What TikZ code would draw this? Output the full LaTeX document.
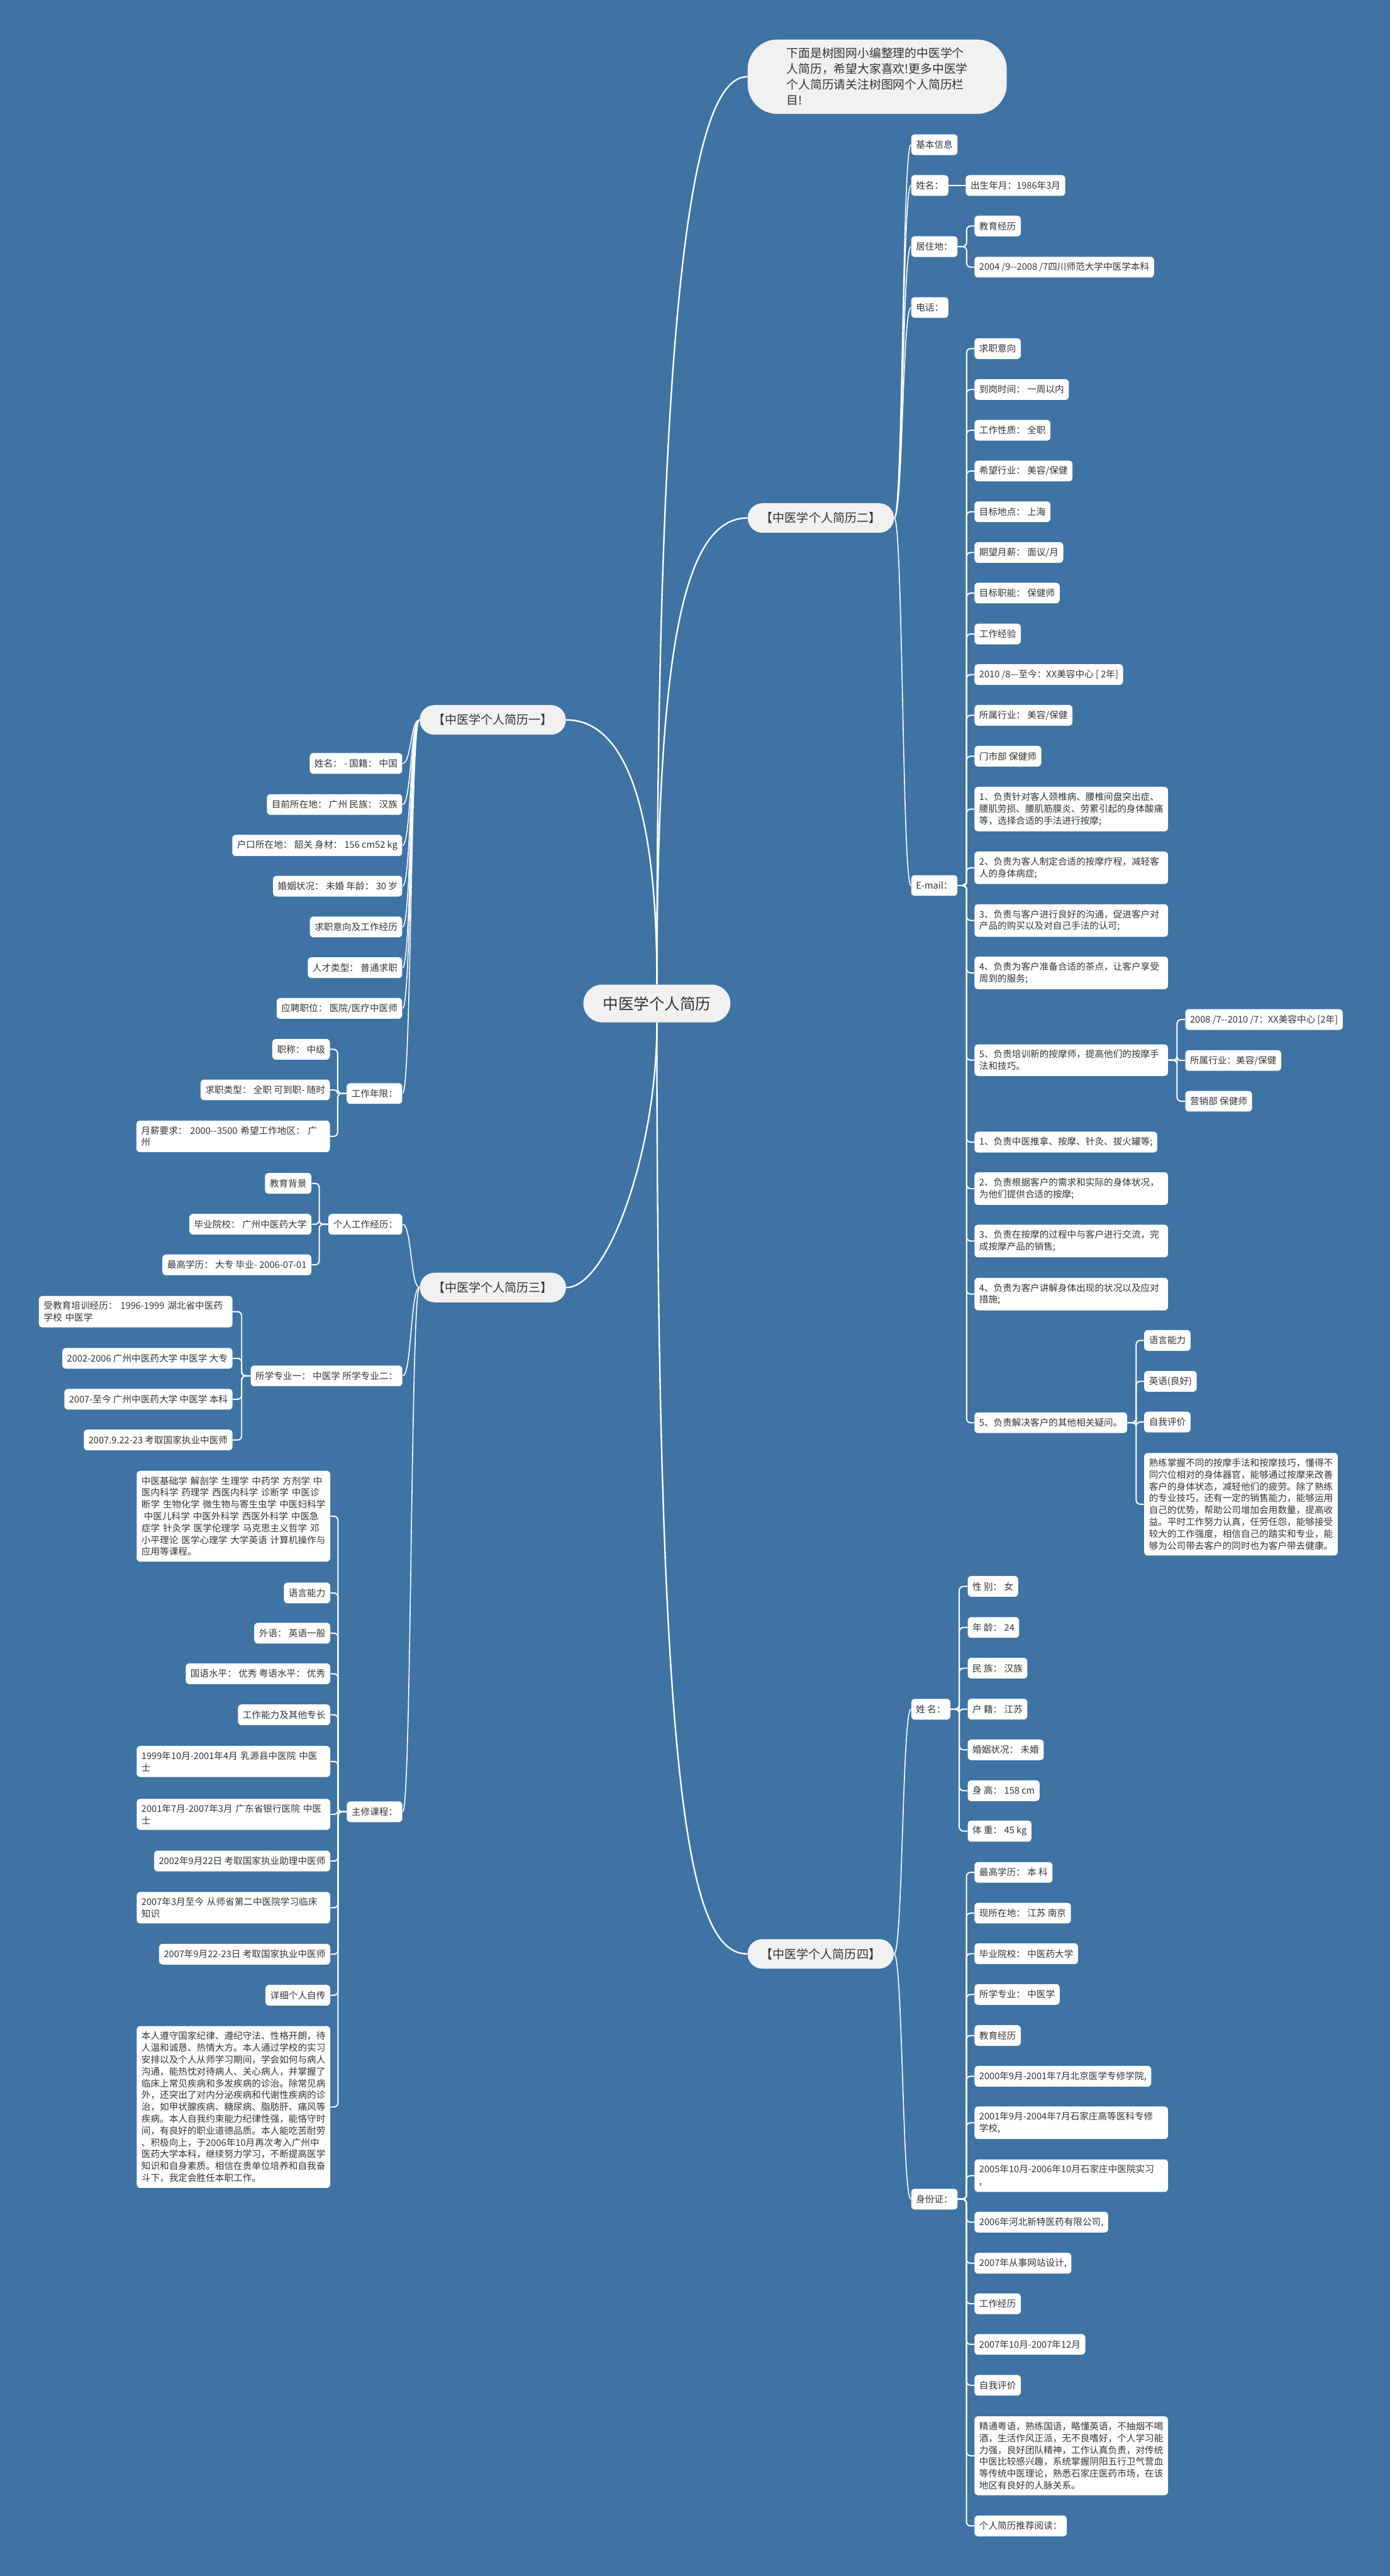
\documentclass[tikz,border=0pt]{standalone}
\usepackage{fontspec}
\usepackage{xcolor}
\newfontfamily\cjkfont{Noto Sans CJK SC}
\usetikzlibrary{positioning}
\definecolor{mapblue}{RGB}{62,115,164}
\definecolor{inkgrey}{HTML}{333333}
\definecolor{pillgrey}{HTML}{F1F1F1}

\begin{document}
\begin{tikzpicture}[
    x=1pt, y=-1pt,
    leaf/.style={rectangle, rounded corners=2.2pt, fill=white, text=inkgrey, font=\cjkfont\fontsize{5.6}{7.2}\selectfont, inner xsep=2.9pt, inner ysep=3.4pt, minimum height=12.6pt},
    wideleaf/.style={leaf, text width=112pt, align=left},
    branchbox/.style={rectangle, rounded corners=9pt, fill=pillgrey, text=inkgrey, font=\cjkfont\fontsize{7.3}{9}\selectfont, minimum width=89pt, minimum height=18pt, inner sep=0pt},
    rootbox/.style={branchbox, rounded corners=11.5pt, font=\cjkfont\fontsize{9.4}{11}\selectfont, minimum width=89.5pt, minimum height=23pt},
    introbox/.style={branchbox, rounded corners=18pt, font=\cjkfont\fontsize{7.2}{9.6}\selectfont, align=left, minimum width=157.7pt, minimum height=45.2pt},
    trunk/.style={draw=white, line width=0.9pt},
    twig/.style={draw=white, line width=0.6pt},
    elbow/.style={draw=white, line width=0.75pt, rounded corners=2.5pt}
  ]
    \fill[mapblue] (0,0) rectangle (846,1568);
    \useasboundingbox (0,0) rectangle (846,1568);

    % centre and main branches
    \node[rootbox] (root) at (399.8,610.8) {中医学个人简历};
    \node[introbox] (intro) at (533.9,46.7) {下面是树图网小编整理的中医学个\\人简历，希望大家喜欢!更多中医学\\个人简历请关注树图网个人简历栏\\目!};
    \node[branchbox] (b1) at (299.9,438.2) {【中医学个人简历一】};
    \node[branchbox] (b2) at (499.6,315.3) {【中医学个人简历二】};
    \node[branchbox] (b3) at (300,783.7) {【中医学个人简历三】};
    \node[branchbox] (b4) at (499.5,1189.3) {【中医学个人简历四】};

    \draw[trunk] (root.north) .. controls (400,150) and (425,46.7) .. (intro.west);
    \draw[trunk] (root.north) .. controls (400,400) and (415,315.3) .. (b2.west);
    \draw[trunk] (root.north) .. controls (400,490) and (380,438.2) .. (b1.east);
    \draw[trunk] (root.south) .. controls (400,700) and (370,783.7) .. (b3.east);
    \draw[trunk] (root.south) .. controls (400,1100) and (420,1189.3) .. (b4.west);

    % branch two
    \node[leaf, anchor=west] (jiben) at (554.4,88.1) {基本信息};
    \node[leaf, anchor=west] (xm2) at (554.4,112.9) {姓名：};
    \node[leaf, anchor=west] (jz) at (554.4,150.1) {居住地：};
    \node[leaf, anchor=west] (dh) at (554.4,187.2) {电话：};
    \node[leaf, anchor=west] (em) at (554.4,539) {E-mail：};
    \node[leaf, anchor=west] (csny) at (587.6,112.9) {出生年月：1986年3月};
    \node[leaf, anchor=west] (jyjl2) at (592.9,137.6) {教育经历};
    \node[leaf, anchor=west] (scsf) at (592.9,162.6) {2004 /9--2008 /7四川师范大学中医学本科};
    \node[leaf, anchor=west] (e01) at (592.9,212.2) {求职意向};
    \node[leaf, anchor=west] (e02) at (592.9,237.1) {到岗时间： 一周以内};
    \node[leaf, anchor=west] (e03) at (592.9,261.9) {工作性质： 全职};
    \node[leaf, anchor=west] (e04) at (592.9,286.7) {希望行业： 美容/保健};
    \node[leaf, anchor=west] (e05) at (592.9,311.5) {目标地点： 上海};
    \node[leaf, anchor=west] (e06) at (592.9,336.3) {期望月薪： 面议/月};
    \node[leaf, anchor=west] (e07) at (592.9,361) {目标职能： 保健师};
    \node[leaf, anchor=west] (e08) at (592.9,385.9) {工作经验};
    \node[leaf, anchor=west] (e09) at (592.9,410.6) {2010 /8—至今：XX美容中心 [ 2年]};
    \node[leaf, anchor=west] (e10) at (592.9,435.4) {所属行业： 美容/保健};
    \node[leaf, anchor=west] (e11) at (592.9,460.3) {门市部 保健师};
    \node[wideleaf, anchor=west] (e12) at (592.9,492.5) {1、负责针对客人颈椎病、腰椎间盘突出症、\\腰肌劳损、腰肌筋膜炎、劳累引起的身体酸痛\\等，选择合适的手法进行按摩;};
    \node[wideleaf, anchor=west] (e13) at (592.9,528.2) {2、负责为客人制定合适的按摩疗程，减轻客\\人的身体病症;};
    \node[wideleaf, anchor=west] (e14) at (592.9,560.3) {3、负责与客户进行良好的沟通，促进客户对\\产品的购买以及对自己手法的认可;};
    \node[wideleaf, anchor=west] (e15) at (592.9,592.2) {4、负责为客户准备合适的茶点，让客户享受\\周到的服务;};
    \node[wideleaf, anchor=west] (e16) at (592.9,645.3) {5、负责培训新的按摩师，提高他们的按摩手\\法和技巧。};
    \node[leaf, anchor=west] (e17) at (592.9,695.2) {1、负责中医推拿、按摩、针灸、拔火罐等;};
    \node[wideleaf, anchor=west] (e18) at (592.9,723.5) {2、负责根据客户的需求和实际的身体状况，\\为他们提供合适的按摩;};
    \node[wideleaf, anchor=west] (e19) at (592.9,755.4) {3、负责在按摩的过程中与客户进行交流，完\\成按摩产品的销售;};
    \node[wideleaf, anchor=west] (e20) at (592.9,787.7) {4、负责为客户讲解身体出现的状况以及应对\\措施;};
    \node[leaf, anchor=west] (e21) at (592.9,866) {5、负责解决客户的其他相关疑问。};
    \node[leaf, anchor=west] (f1) at (721.2,620.6) {2008 /7--2010 /7：XX美容中心 [2年]};
    \node[leaf, anchor=west] (f2) at (721.2,645.5) {所属行业：美容/保健};
    \node[leaf, anchor=west] (f3) at (721.2,670.3) {营销部 保健师};
    \node[leaf, anchor=west] (g1) at (696.2,815.9) {语言能力};
    \node[leaf, anchor=west] (g2) at (696.2,840.8) {英语(良好)};
    \node[leaf, anchor=west] (g3) at (696.2,865.6) {自我评价};
    \node[wideleaf, anchor=west] (g4) at (696.2,915.6) {熟练掌握不同的按摩手法和按摩技巧，懂得不\\同穴位相对的身体器官，能够通过按摩来改善\\客户的身体状态，减轻他们的疲劳。除了熟练\\的专业技巧，还有一定的销售能力，能够运用\\自己的优势，帮助公司增加会用数量，提高收\\益。平时工作努力认真，任劳任怨，能够接受\\较大的工作强度，相信自己的踏实和专业，能\\够为公司带去客户的同时也为客户带去健康。};

    \draw[twig] (b2.east) .. controls +(5.2,0) and +(-5.2,0) .. (jiben.west);
    \draw[twig] (b2.east) .. controls +(5.2,0) and +(-5.2,0) .. (xm2.west);
    \draw[twig] (b2.east) .. controls +(5.2,0) and +(-5.2,0) .. (jz.west);
    \draw[twig] (b2.east) .. controls +(5.2,0) and +(-5.2,0) .. (dh.west);
    \draw[twig] (b2.east) .. controls +(5.2,0) and +(-5.2,0) .. (em.west);
    \draw[elbow] (xm2.east) -- (csny.west);
    \draw[elbow] (jz.east) -- ++(5.3,0) |- (jyjl2.west);
    \draw[elbow] (jz.east) -- ++(5.3,0) |- (scsf.west);
    \draw[elbow] (em.east) -- ++(5.4,0) |- (e01.west);
    \draw[elbow] (em.east) -- ++(5.4,0) |- (e02.west);
    \draw[elbow] (em.east) -- ++(5.4,0) |- (e03.west);
    \draw[elbow] (em.east) -- ++(5.4,0) |- (e04.west);
    \draw[elbow] (em.east) -- ++(5.4,0) |- (e05.west);
    \draw[elbow] (em.east) -- ++(5.4,0) |- (e06.west);
    \draw[elbow] (em.east) -- ++(5.4,0) |- (e07.west);
    \draw[elbow] (em.east) -- ++(5.4,0) |- (e08.west);
    \draw[elbow] (em.east) -- ++(5.4,0) |- (e09.west);
    \draw[elbow] (em.east) -- ++(5.4,0) |- (e10.west);
    \draw[elbow] (em.east) -- ++(5.4,0) |- (e11.west);
    \draw[elbow] (em.east) -- ++(5.4,0) |- (e12.west);
    \draw[elbow] (em.east) -- ++(5.4,0) |- (e13.west);
    \draw[elbow] (em.east) -- ++(5.4,0) |- (e14.west);
    \draw[elbow] (em.east) -- ++(5.4,0) |- (e15.west);
    \draw[elbow] (em.east) -- ++(5.4,0) |- (e16.west);
    \draw[elbow] (em.east) -- ++(5.4,0) |- (e17.west);
    \draw[elbow] (em.east) -- ++(5.4,0) |- (e18.west);
    \draw[elbow] (em.east) -- ++(5.4,0) |- (e19.west);
    \draw[elbow] (em.east) -- ++(5.4,0) |- (e20.west);
    \draw[elbow] (em.east) -- ++(5.4,0) |- (e21.west);
    \draw[elbow] (e16.east) -- ++(5.3,0) |- (f1.west);
    \draw[elbow] (e16.east) -- ++(5.3,0) |- (f2.west);
    \draw[elbow] (e16.east) -- ++(5.3,0) |- (f3.west);
    \draw[elbow] (e21.east) -- ++(5.3,0) |- (g1.west);
    \draw[elbow] (e21.east) -- ++(5.3,0) |- (g2.west);
    \draw[elbow] (e21.east) -- ++(5.3,0) |- (g3.west);
    \draw[elbow] (e21.east) -- ++(5.3,0) |- (g4.west);

    % branch one
    \node[leaf, anchor=east] (a1) at (245,464.7) {姓名： - 国籍： 中国};
    \node[leaf, anchor=east] (a2) at (245,489.7) {目前所在地： 广州 民族： 汉族};
    \node[leaf, anchor=east] (a3) at (245,514.6) {户口所在地： 韶关 身材： 156 cm52 kg};
    \node[leaf, anchor=east] (a4) at (245,539.4) {婚姻状况： 未婚 年龄： 30 岁};
    \node[leaf, anchor=east] (a5) at (245,564.2) {求职意向及工作经历};
    \node[leaf, anchor=east] (a6) at (245,589) {人才类型： 普通求职};
    \node[leaf, anchor=east] (a7) at (245,613.8) {应聘职位： 医院/医疗中医师};
    \node[leaf, anchor=east] (a8) at (245,665.6) {工作年限：};
    \node[leaf, anchor=east] (a81) at (201,638.7) {职称： 中级};
    \node[leaf, anchor=east] (a82) at (201,663.4) {求职类型： 全职 可到职- 随时};
    \node[wideleaf, anchor=east] (a83) at (201,691.7) {月薪要求： 2000--3500 希望工作地区： 广\\州};

    \draw[twig] (b1.west) .. controls +(-5.4,0) and +(5.4,0) .. (a1.east);
    \draw[twig] (b1.west) .. controls +(-5.4,0) and +(5.4,0) .. (a2.east);
    \draw[twig] (b1.west) .. controls +(-5.4,0) and +(5.4,0) .. (a3.east);
    \draw[twig] (b1.west) .. controls +(-5.4,0) and +(5.4,0) .. (a4.east);
    \draw[twig] (b1.west) .. controls +(-5.4,0) and +(5.4,0) .. (a5.east);
    \draw[twig] (b1.west) .. controls +(-5.4,0) and +(5.4,0) .. (a6.east);
    \draw[twig] (b1.west) .. controls +(-5.4,0) and +(5.4,0) .. (a7.east);
    \draw[twig] (b1.west) .. controls +(-5.4,0) and +(5.4,0) .. (a8.east);
    \draw[elbow] (a8.west) -- ++(-5.3,0) |- (a81.east);
    \draw[elbow] (a8.west) -- ++(-5.3,0) |- (a82.east);
    \draw[elbow] (a8.west) -- ++(-5.3,0) |- (a83.east);

    % branch three
    \node[leaf, anchor=east] (c1) at (245.1,745.2) {个人工作经历：};
    \node[leaf, anchor=east] (c2) at (245.1,837.5) {所学专业一： 中医学 所学专业二：};
    \node[leaf, anchor=east] (c3) at (245.1,1102.8) {主修课程：};
    \node[leaf, anchor=east] (c11) at (189.7,720.3) {教育背景};
    \node[leaf, anchor=east] (c12) at (189.7,745.2) {毕业院校： 广州中医药大学};
    \node[leaf, anchor=east] (c13) at (189.7,769.9) {最高学历： 大专 毕业- 2006-07-01};
    \node[wideleaf, anchor=east] (c21) at (141.7,798.4) {受教育培训经历： 1996-1999 湖北省中医药\\学校 中医学};
    \node[leaf, anchor=east] (c22) at (141.7,826.8) {2002-2006 广州中医药大学 中医学 大专};
    \node[leaf, anchor=east] (c23) at (141.7,851.7) {2007-至今 广州中医药大学 中医学 本科};
    \node[leaf, anchor=east] (c24) at (141.7,876.5) {2007.9.22-23 考取国家执业中医师};
    \node[wideleaf, anchor=east] (c301) at (201.2,922.9) {中医基础学 解剖学 生理学 中药学 方剂学 中\\医内科学 药理学 西医内科学 诊断学 中医诊\\断学 生物化学 微生物与寄生虫学 中医妇科学\\\hspace*{1.5pt}中医儿科学 中医外科学 西医外科学 中医急\\症学 针灸学 医学伦理学 马克思主义哲学 邓\\小平理论 医学心理学 大学英语 计算机操作与\\应用等课程。};
    \node[leaf, anchor=east] (c302) at (201.2,969.6) {语言能力};
    \node[leaf, anchor=east] (c303) at (201.2,994.1) {外语： 英语一般};
    \node[leaf, anchor=east] (c304) at (201.2,1018.8) {国语水平： 优秀 粤语水平： 优秀};
    \node[leaf, anchor=east] (c305) at (201.2,1043.8) {工作能力及其他专长};
    \node[wideleaf, anchor=east] (c306) at (201.2,1072.2) {1999年10月-2001年4月 乳源县中医院 中医\\士};
    \node[wideleaf, anchor=east] (c307) at (201.2,1104.4) {2001年7月-2007年3月 广东省银行医院 中医\\士};
    \node[leaf, anchor=east] (c308) at (201.2,1132.8) {2002年9月22日 考取国家执业助理中医师};
    \node[wideleaf, anchor=east] (c309) at (201.2,1161.2) {2007年3月至今 从师省第二中医院学习临床\\知识};
    \node[leaf, anchor=east] (c310) at (201.2,1189.5) {2007年9月22-23日 考取国家执业中医师};
    \node[leaf, anchor=east] (c311) at (201.2,1214.5) {详细个人自传};
    \node[wideleaf, anchor=east] (c312) at (201.2,1282.5) {本人遵守国家纪律、遵纪守法、性格开朗，待\\人温和诚恳、热情大方。本人通过学校的实习\\安排以及个人从师学习期间，学会如何与病人\\沟通，能热忱对待病人、关心病人，并掌握了\\临床上常见疾病和多发疾病的诊治。除常见病\\外，还突出了对内分泌疾病和代谢性疾病的诊\\治，如甲状腺疾病、糖尿病、脂肪肝、痛风等\\疾病。本人自我约束能力纪律性强，能恪守时\\间，有良好的职业道德品质。本人能吃苦耐劳\\、积极向上，于2006年10月再次考入广州中\\医药大学本科，继续努力学习，不断提高医学\\知识和自身素质。相信在贵单位培养和自我奋\\斗下，我定会胜任本职工作。};

    \draw[twig] (b3.west) .. controls +(-5.4,0) and +(5.4,0) .. (c1.east);
    \draw[twig] (b3.west) .. controls +(-5.4,0) and +(5.4,0) .. (c2.east);
    \draw[twig] (b3.west) .. controls +(-5.4,0) and +(5.4,0) .. (c3.east);
    \draw[elbow] (c1.west) -- ++(-5.4,0) |- (c11.east);
    \draw[elbow] (c1.west) -- ++(-5.4,0) |- (c12.east);
    \draw[elbow] (c1.west) -- ++(-5.4,0) |- (c13.east);
    \draw[elbow] (c2.west) -- ++(-5.3,0) |- (c21.east);
    \draw[elbow] (c2.west) -- ++(-5.3,0) |- (c22.east);
    \draw[elbow] (c2.west) -- ++(-5.3,0) |- (c23.east);
    \draw[elbow] (c2.west) -- ++(-5.3,0) |- (c24.east);
    \draw[elbow] (c3.west) -- ++(-5.2,0) |- (c301.east);
    \draw[elbow] (c3.west) -- ++(-5.2,0) |- (c302.east);
    \draw[elbow] (c3.west) -- ++(-5.2,0) |- (c303.east);
    \draw[elbow] (c3.west) -- ++(-5.2,0) |- (c304.east);
    \draw[elbow] (c3.west) -- ++(-5.2,0) |- (c305.east);
    \draw[elbow] (c3.west) -- ++(-5.2,0) |- (c306.east);
    \draw[elbow] (c3.west) -- ++(-5.2,0) |- (c307.east);
    \draw[elbow] (c3.west) -- ++(-5.2,0) |- (c308.east);
    \draw[elbow] (c3.west) -- ++(-5.2,0) |- (c309.east);
    \draw[elbow] (c3.west) -- ++(-5.2,0) |- (c310.east);
    \draw[elbow] (c3.west) -- ++(-5.2,0) |- (c311.east);
    \draw[elbow] (c3.west) -- ++(-5.2,0) |- (c312.east);

    % branch four
    \node[leaf, anchor=west] (xm4) at (554.4,1040.4) {姓 名：};
    \node[leaf, anchor=west] (sfz) at (554.4,1338.6) {身份证：};
    \node[leaf, anchor=west] (h1) at (588.8,965.6) {性 别： 女};
    \node[leaf, anchor=west] (h2) at (588.8,990.6) {年 龄： 24};
    \node[leaf, anchor=west] (h3) at (588.8,1015.4) {民 族： 汉族};
    \node[leaf, anchor=west] (h4) at (588.8,1040.3) {户 籍： 江苏};
    \node[leaf, anchor=west] (h5) at (588.8,1065.1) {婚姻状况： 未婚};
    \node[leaf, anchor=west] (h6) at (588.8,1090) {身 高： 158 cm};
    \node[leaf, anchor=west] (h7) at (588.8,1114.6) {体 重： 45 kg};
    \node[leaf, anchor=west] (k01) at (592.9,1139.7) {最高学历： 本 科};
    \node[leaf, anchor=west] (k02) at (592.9,1164.5) {现所在地： 江苏 南京};
    \node[leaf, anchor=west] (k03) at (592.9,1189.2) {毕业院校： 中医药大学};
    \node[leaf, anchor=west] (k04) at (592.9,1214) {所学专业： 中医学};
    \node[leaf, anchor=west] (k05) at (592.9,1239) {教育经历};
    \node[leaf, anchor=west] (k06) at (592.9,1263.8) {2000年9月-2001年7月北京医学专修学院,};
    \node[wideleaf, anchor=west] (k07) at (592.9,1292.1) {2001年9月-2004年7月石家庄高等医科专修\\学校,};
    \node[wideleaf, anchor=west] (k08) at (592.9,1324.3) {2005年10月-2006年10月石家庄中医院实习\\,};
    \node[leaf, anchor=west] (k09) at (592.9,1352.6) {2006年河北新特医药有限公司,};
    \node[leaf, anchor=west] (k10) at (592.9,1377.6) {2007年从事网站设计,};
    \node[leaf, anchor=west] (k11) at (592.9,1402.3) {工作经历};
    \node[leaf, anchor=west] (k12) at (592.9,1427) {2007年10月-2007年12月};
    \node[leaf, anchor=west] (k13) at (592.9,1451.9) {自我评价};
    \node[wideleaf, anchor=west] (k14) at (592.9,1494.8) {精通粤语，熟练国语，略懂英语，不抽烟不喝\\酒，生活作风正派，无不良嗜好，个人学习能\\力强，良好团队精神，工作认真负责，对传统\\中医比较感兴趣，系统掌握阴阳五行卫气营血\\等传统中医理论，熟悉石家庄医药市场，在该\\地区有良好的人脉关系。};
    \node[leaf, anchor=west] (k15) at (592.9,1537.5) {个人简历推荐阅读：};

    \draw[twig] (b4.east) .. controls +(5.2,0) and +(-5.2,0) .. (xm4.west);
    \draw[twig] (b4.east) .. controls +(5.2,0) and +(-5.2,0) .. (sfz.west);
    \draw[elbow] (xm4.east) -- ++(5.2,0) |- (h1.west);
    \draw[elbow] (xm4.east) -- ++(5.2,0) |- (h2.west);
    \draw[elbow] (xm4.east) -- ++(5.2,0) |- (h3.west);
    \draw[elbow] (xm4.east) -- ++(5.2,0) |- (h4.west);
    \draw[elbow] (xm4.east) -- ++(5.2,0) |- (h5.west);
    \draw[elbow] (xm4.east) -- ++(5.2,0) |- (h6.west);
    \draw[elbow] (xm4.east) -- ++(5.2,0) |- (h7.west);
    \draw[elbow] (sfz.east) -- ++(5.2,0) |- (k01.west);
    \draw[elbow] (sfz.east) -- ++(5.2,0) |- (k02.west);
    \draw[elbow] (sfz.east) -- ++(5.2,0) |- (k03.west);
    \draw[elbow] (sfz.east) -- ++(5.2,0) |- (k04.west);
    \draw[elbow] (sfz.east) -- ++(5.2,0) |- (k05.west);
    \draw[elbow] (sfz.east) -- ++(5.2,0) |- (k06.west);
    \draw[elbow] (sfz.east) -- ++(5.2,0) |- (k07.west);
    \draw[elbow] (sfz.east) -- ++(5.2,0) |- (k08.west);
    \draw[elbow] (sfz.east) -- ++(5.2,0) |- (k09.west);
    \draw[elbow] (sfz.east) -- ++(5.2,0) |- (k10.west);
    \draw[elbow] (sfz.east) -- ++(5.2,0) |- (k11.west);
    \draw[elbow] (sfz.east) -- ++(5.2,0) |- (k12.west);
    \draw[elbow] (sfz.east) -- ++(5.2,0) |- (k13.west);
    \draw[elbow] (sfz.east) -- ++(5.2,0) |- (k14.west);
    \draw[elbow] (sfz.east) -- ++(5.2,0) |- (k15.west);
  \end{tikzpicture}
\end{document}
